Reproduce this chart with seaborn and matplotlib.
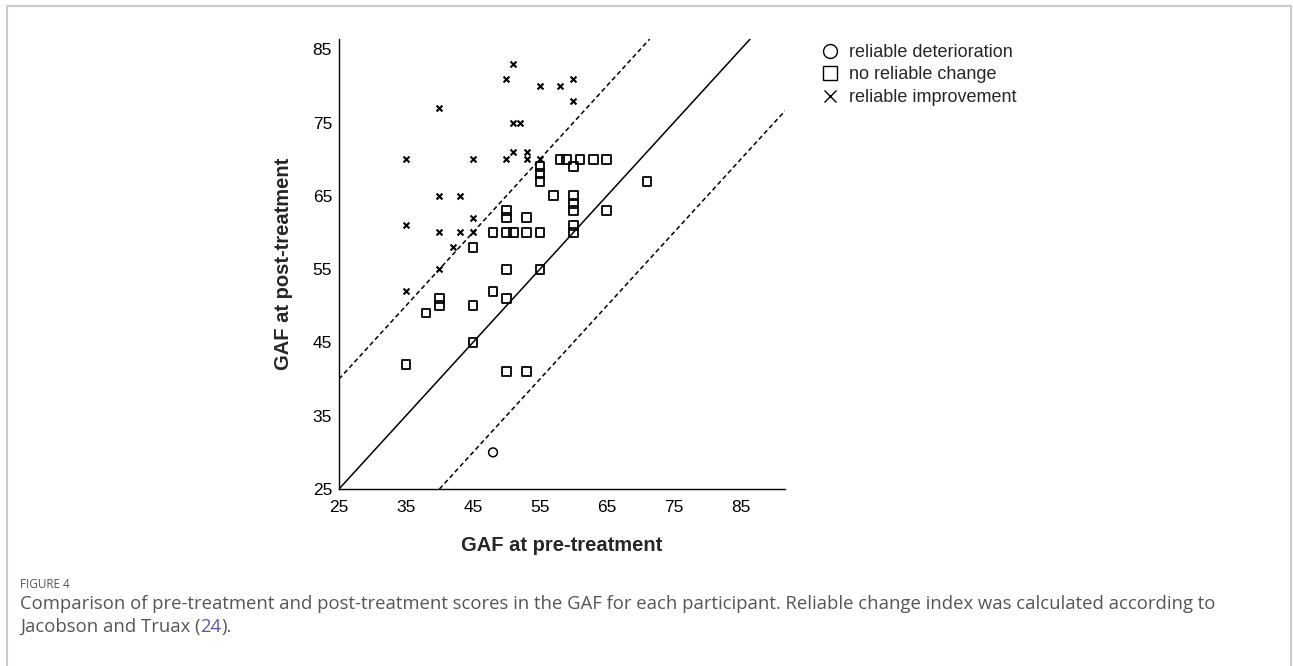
import matplotlib
matplotlib.use("Agg")
import matplotlib.pyplot as plt
from matplotlib.lines import Line2D
from matplotlib.patches import Rectangle
import seaborn as sns
import pandas as pd

# ---- data (GAF pre, GAF post) ----
improve_pre  = [51, 50, 55, 58, 60, 60, 40, 51, 52, 35, 45, 50, 51, 53, 53, 55, 40, 43, 45, 35, 40, 43, 45, 42, 40, 35]
improve_post = [83, 81, 80, 80, 81, 78, 77, 75, 75, 70, 70, 70, 71, 71, 70, 70, 65, 65, 62, 61, 60, 60, 60, 58, 55, 52]

nochange_pre  = [58, 59, 61, 63, 65, 60, 55, 55, 55, 57, 71, 60, 60, 60, 65, 60, 60, 55, 50, 50, 53, 48, 50, 51, 53, 55, 45, 50, 48, 40, 40, 50, 38, 45, 45, 35, 50, 53]
nochange_post = [70, 70, 70, 70, 70, 69, 69, 68, 67, 65, 67, 65, 64, 63, 63, 61, 60, 55, 63, 62, 62, 60, 60, 60, 60, 60, 58, 55, 52, 51, 50, 51, 49, 50, 45, 42, 41, 41]

deter_pre  = [48]
deter_post = [30]

rci_offsets = [0, 15, -15]          # y = x + offset
line_styles = ["-", (0, (3, 2)), (0, (3, 2))]

x_ticks = [25, 35, 45, 55, 65, 75, 85]
y_ticks = [25, 35, 45, 55, 65, 75, 85]

legend_labels = ["reliable deterioration", "no reliable change", "reliable improvement"]

sns.set_theme(style="white")
plt.rcParams["font.family"] = ["Liberation Sans", "DejaVu Sans"]

fig = plt.figure(figsize=(12.93, 6.66), dpi=100)
ax = fig.add_axes([339/1293, 1-489/666, (785-339)/1293, (489-39)/666])

df_imp = pd.DataFrame({"pre": improve_pre, "post": improve_post})
df_nc = pd.DataFrame({"pre": nochange_pre, "post": nochange_post})
df_det = pd.DataFrame({"pre": deter_pre, "post": deter_post})

for off, ls in zip(rci_offsets, line_styles):
    ax.axline((25, 25 + off), slope=1, color="black", lw=1.1, ls=ls, zorder=1)

sns.scatterplot(data=df_nc, x="pre", y="post", marker="s", s=40,
                facecolor="none", edgecolor="black", linewidth=1.3, ax=ax, zorder=3)
sns.scatterplot(data=df_imp, x="pre", y="post", marker="x", s=18,
                color="black", linewidth=1.5, ax=ax, zorder=3)
sns.scatterplot(data=df_det, x="pre", y="post", marker="o", s=40,
                facecolor="none", edgecolor="black", linewidth=1.1, ax=ax, zorder=3)

ax.set_xlim(25, 91.6)
ax.set_ylim(25, 86.4)
ax.set_xticks(x_ticks)
ax.set_yticks(y_ticks)
ax.tick_params(axis="both", length=0, labelsize=12.5, colors="black")
ax.tick_params(axis="x", pad=8)
ax.tick_params(axis="y", pad=5)
for s in ["top", "right"]:
    ax.spines[s].set_visible(False)
for s in ["left", "bottom"]:
    ax.spines[s].set_color("black")
    ax.spines[s].set_linewidth(1.0)
ax.set_xlabel("GAF at pre-treatment", fontsize=14.5, fontweight="bold", labelpad=15)
ax.set_ylabel("GAF at post-treatment", fontsize=14.5, fontweight="bold", labelpad=14)

handles = [
    Line2D([], [], ls="none", marker="o", ms=10, mfc="none", mec="black", mew=1.0),
    Line2D([], [], ls="none", marker="s", ms=9.5, mfc="none", mec="black", mew=1.0),
    Line2D([], [], ls="none", marker="x", ms=8.5, color="black", mew=1.0),
]
fig.legend(handles, legend_labels, loc="upper left", bbox_to_anchor=(823/1293, 1-44/666),
           frameon=False, fontsize=13, handlelength=0.8, handletextpad=0.65,
           labelspacing=0.3, borderpad=0, borderaxespad=0)

# frame
fig.patches.append(Rectangle((7/1293, -0.1), (1291-7)/1293, 1.1 - 6/666, transform=fig.transFigure,
                             fill=False, edgecolor="#cccccc", lw=1.5))

cap_font = ["Open Sans", "DejaVu Sans"]
cap_size = 13.3
fig.text(20/1293, 1-585/666, "FIGURE 4", fontsize=8.5, color="#555555", family=cap_font, va="center")
fig.text(20/1293, 1-604/666,
         "Comparison of pre-treatment and post-treatment scores in the GAF for each participant. "
         "Reliable change index was calculated according to",
         fontsize=cap_size, color="#555555", family=cap_font, va="center")
t1 = fig.text(20/1293, 1-627/666, "Jacobson and Truax (", fontsize=cap_size, color="#555555",
              family=cap_font, va="center")
fig.canvas.draw()
bb = t1.get_window_extent()
t2 = fig.text(bb.x1/1293, 1-627/666, "24", fontsize=cap_size, color="#5b54b0", family=cap_font, va="center")
fig.canvas.draw()
bb2 = t2.get_window_extent()
fig.text(bb2.x1/1293, 1-627/666, ").", fontsize=cap_size, color="#555555", family=cap_font, va="center")

fig.savefig("out.png", dpi=100)
